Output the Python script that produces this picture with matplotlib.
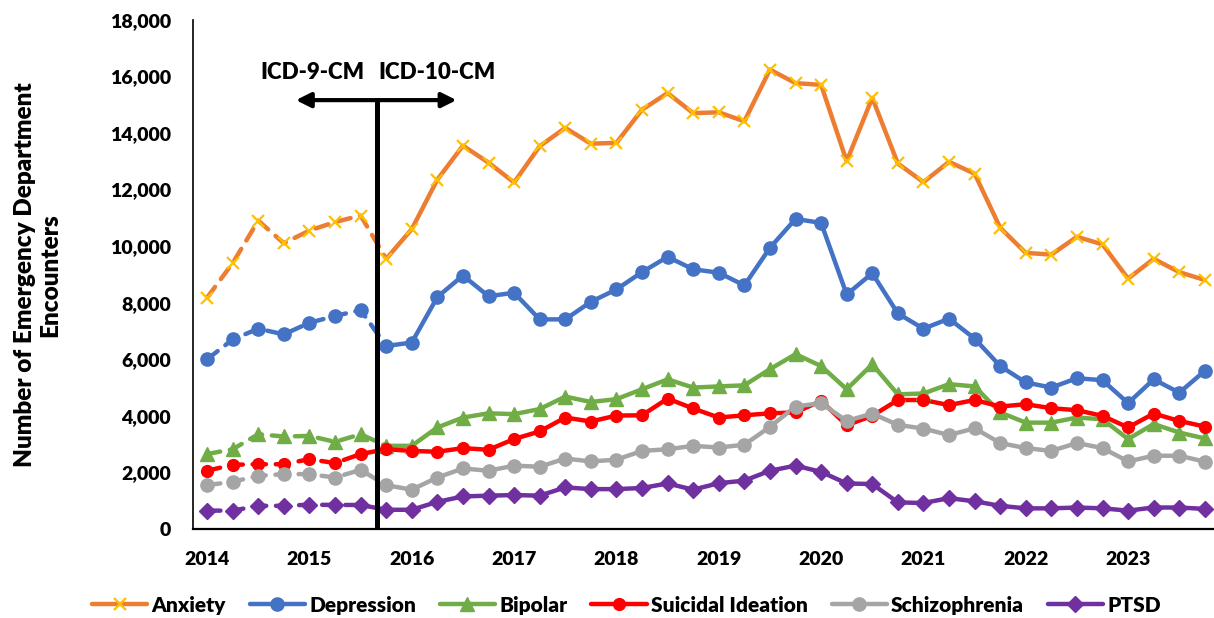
import numpy as np
import matplotlib
matplotlib.use("Agg")
import matplotlib.pyplot as plt
from matplotlib.lines import Line2D

WEIGHT = 'heavy'
plt.rcParams['font.family'] = ['Lato', 'DejaVu Sans']
plt.rcParams['font.weight'] = WEIGHT

# quarterly, 2014 Q1 .. 2023 Q4
years = list(range(2014, 2024))
anxiety = [8180, 9400, 10900, 10100, 10550, 10850, 11080, 9550, 10600, 12350,
           13550, 12950, 12250, 13530, 14180, 13620, 13650, 14820, 15410, 14700,
           14730, 14410, 16240, 15760, 15700, 13000, 15240, 12920, 12260, 12980,
           12560, 10650, 9760, 9700, 10330, 10060, 8850, 9550, 9080, 8800]
depression = [6000, 6700, 7080, 6880, 7290, 7530, 7740, 6470, 6590, 8200,
              8960, 8230, 8350, 7410, 7410, 8030, 8470, 9080, 9620, 9180,
              9060, 8610, 9940, 10960, 10820, 8290, 9040, 7620, 7080, 7435,
              6730, 5760, 5180, 5000, 5330, 5260, 4450, 5290, 4820, 5590]
bipolar = [2650, 2820, 3350, 3270, 3290, 3080, 3350, 2940, 2940, 3590,
           3940, 4090, 4060, 4240, 4680, 4490, 4590, 4940, 5290, 5000,
           5040, 5080, 5650, 6180, 5760, 4940, 5820, 4760, 4790, 5120,
           5040, 4120, 3760, 3760, 3940, 3880, 3180, 3710, 3410, 3200]
suicidal = [2060, 2270, 2290, 2290, 2470, 2330, 2650, 2820, 2760, 2730,
            2860, 2800, 3180, 3450, 3940, 3800, 4010, 4020, 4610, 4260,
            3940, 4020, 4090, 4120, 4530, 3670, 4000, 4560, 4560, 4380,
            4560, 4330, 4410, 4270, 4200, 4000, 3590, 4080, 3820, 3620]
schizo = [1550, 1670, 1880, 1940, 1940, 1820, 2090, 1550, 1390, 1820,
          2140, 2060, 2240, 2200, 2490, 2390, 2450, 2760, 2820, 2940,
          2880, 2980, 3610, 4330, 4450, 3820, 4080, 3680, 3550, 3320,
          3560, 3040, 2860, 2760, 3040, 2860, 2390, 2590, 2590, 2380]
ptsd = [650, 650, 820, 820, 860, 850, 850, 680, 680, 960,
        1150, 1180, 1200, 1180, 1470, 1410, 1410, 1450, 1610, 1390,
        1620, 1710, 2060, 2240, 2020, 1610, 1590, 940, 920, 1090,
        980, 820, 730, 730, 760, 730, 650, 760, 760, 710]

series = [
    ("Anxiety", anxiety, '#ED7D31', 'x', '#FFC000', 9),
    ("Depression", depression, '#4472C4', 'o', '#4472C4', 9.5),
    ("Bipolar", bipolar, '#70AD47', '^', '#70AD47', 10),
    ("Suicidal Ideation", suicidal, '#FF0000', 'o', '#FF0000', 8.5),
    ("Schizophrenia", schizo, '#A5A5A5', 'o', '#A5A5A5', 9.5),
    ("PTSD", ptsd, '#7030A0', 'D', '#7030A0', 8.5),
]

switch = 7  # first ICD-10 quarter
x = np.arange(len(anxiety))

fig = plt.figure(figsize=(12.14, 6.18), dpi=100)
ax = fig.add_axes([0.159, 0.144, 0.844, 0.824])

handles = []
for name, vals, col, mk, mcol, ms in series:
    v = np.array(vals)
    ax.plot(x[:switch + 1], v[:switch + 1], color=col, lw=3.2, ls=(0, (3, 2.2)),
            dash_capstyle='round', zorder=2)
    ax.plot(x[switch:], v[switch:], color=col, lw=3.2, solid_capstyle='round',
            solid_joinstyle='round', zorder=2)
    mew = 1.6 if mk == 'x' else 1
    ax.plot(x, v, ls='none', marker=mk, ms=ms, color=mcol, mec=mcol, mew=mew,
            zorder=3, clip_on=False)
    handles.append(Line2D([], [], color=col, lw=3.2, marker=mk, ms=ms, mfc=mcol,
                          mec=mcol, mew=mew, solid_capstyle='round'))

# ICD-9 / ICD-10 transition marker
xv = 6.64
ax.plot([xv, xv], [150, 15160], color='black', lw=3.6, zorder=4)
ax.annotate('', xy=(3.47, 15160), xytext=(9.75, 15160),
            arrowprops=dict(arrowstyle='<|-|>', color='black', lw=3,
                            mutation_scale=22, shrinkA=0, shrinkB=0), zorder=4)
ax.text(4.1, 16150, 'ICD-9-CM', ha='center', va='center', fontsize=16, fontweight=WEIGHT)
ax.text(9.0, 16150, 'ICD-10-CM', ha='center', va='center', fontsize=16, fontweight=WEIGHT)

ax.set_xlim(-0.55, 39.5)
ax.set_ylim(0, 18000)
ax.set_xticks(x[::4])
ax.set_xticklabels([str(y) for y in years])
ax.set_yticks(range(0, 18001, 2000))
ax.set_yticklabels([f"{t:,}" for t in range(0, 18001, 2000)])
ax.tick_params(length=0, labelsize=14)
ax.tick_params(axis='x', pad=16)
ax.tick_params(axis='y', pad=16)
for lab in ax.get_xticklabels() + ax.get_yticklabels():
    lab.set_fontweight(WEIGHT)
ax.spines['top'].set_visible(False)
ax.spines['right'].set_visible(False)
ax.spines['left'].set_linewidth(1.2)
ax.spines['bottom'].set_linewidth(1.6)

fig.text(0.031, 0.555, "Number of Emergency Department\nEncounters", rotation=90,
         ha='center', va='center', fontsize=17.5, fontweight=WEIGHT,
         multialignment='center', linespacing=1.15)

fig.legend(handles, [s[0] for s in series], loc='center', bbox_to_anchor=(0.516, 0.021),
           ncol=6, frameon=False, fontsize=15, handlelength=2.65, columnspacing=1.15,
           handletextpad=0.2)

fig.savefig('out.png', dpi=100)
